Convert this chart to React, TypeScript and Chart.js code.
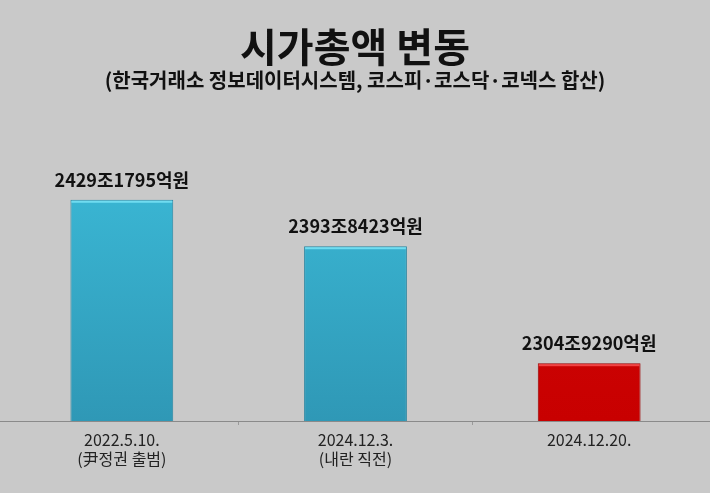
import React, { useEffect, useRef } from "react";
import { Chart, registerables } from "chart.js";
Chart.register(...registerables);

const titleText = "시가총액 변동";
const subtitleText = "(한국거래소 정보데이터시스템, 코스피·코스닥·코넥스 합산)";
const categories = [["2022.5.10.", "(尹정권 출범)"], ["2024.12.3.", "(내란 직전)"], ["2024.12.20."]];
const values = [2429.1795, 2393.8423, 2304.929];
const valueLabels = ["2429조1795억원", "2393조8423억원", "2304조9290억원"];
const barKinds = ["blue", "blue", "red"];
const yMin = 2261;
const yMax = 2505;

const FONT = '"Noto Sans CJK KR", "Noto Sans", sans-serif';
const BG = "#c9c9c9";

const palette: Record<string, { top: string; bottom: string; border: string; hi: string }> = {
  blue: { top: "#3ec1de", bottom: "#2f98b6", border: "#2a87a2", hi: "#70dcf0" },
  red: { top: "#d40a0a", bottom: "#c80000", border: "#9c0000", hi: "#f04444" },
};

const decor = {
  id: "decor",
  beforeDraw(chart: any) {
    const { ctx, width, height } = chart;
    ctx.save();
    ctx.fillStyle = BG;
    ctx.fillRect(0, 0, width, height);
    ctx.restore();
  },
  afterDatasetsDraw(chart: any) {
    const ctx = chart.ctx;
    const meta = chart.getDatasetMeta(0);
    ctx.save();
    meta.data.forEach((bar: any, i: number) => {
      const { x, y, width } = bar.getProps(["x", "y", "width"], true);
      const p = palette[barKinds[i]];
      ctx.fillStyle = p.hi;
      ctx.fillRect(x - width / 2 + 1, y + 1, width - 2, 2);
      ctx.font = `bold 18px ${FONT}`;
      ctx.textAlign = "center";
      ctx.textBaseline = "alphabetic";
      ctx.fillStyle = "#111";
      ctx.fillText(valueLabels[i], x, y - 13);
    });
    const yb = chart.chartArea.bottom;
    ctx.strokeStyle = "#8a8a8a";
    ctx.lineWidth = 1;
    ctx.beginPath();
    ctx.moveTo(0, yb + 0.5);
    ctx.lineTo(chart.width, yb + 0.5);
    ctx.stroke();
    ctx.restore();
  },
  afterDraw(chart: any) {
    const ctx = chart.ctx;
    const cx = chart.width / 2;
    ctx.save();
    ctx.fillStyle = "#111";
    ctx.textAlign = "center";
    ctx.textBaseline = "middle";
    ctx.font = `bold 40px ${FONT}`;
    ctx.fillText(titleText, cx, 47);
    ctx.font = `bold 20px ${FONT}`;
    ctx.fillText(subtitleText, cx, 80);
    ctx.restore();
  },
};

export default function App() {
  const ref = useRef<HTMLCanvasElement>(null);
  useEffect(() => {
    if (!ref.current) return;
    const chart = new Chart(ref.current, {
      type: "bar",
      data: {
        labels: categories as any,
        datasets: [
          {
            data: values,
            barPercentage: 0.44,
            categoryPercentage: 1,
            borderWidth: 1,
            borderColor: barKinds.map((k) => palette[k].border),
            backgroundColor: (c: any) => {
              const area = c.chart.chartArea;
              const p = palette[barKinds[c.dataIndex] || "blue"];
              if (!area) return p.top;
              const g = c.chart.ctx.createLinearGradient(0, area.top, 0, area.bottom);
              g.addColorStop(0, p.top);
              g.addColorStop(1, p.bottom);
              return g;
            },
          },
        ],
      },
      options: {
        responsive: false,
        animation: false,
        layout: { padding: { top: 100, left: 5, right: 4, bottom: 0 } },
        plugins: { legend: { display: false }, tooltip: { enabled: false }, title: { display: false } },
        scales: {
          y: { display: false, min: yMin, max: yMax },
          x: {
            border: { display: false },
            grid: {
              display: true,
              drawOnChartArea: false,
              offset: true,
              tickLength: 4,
              color: (c: any) =>
                c.type !== "tick" || c.index === 0 || c.index === undefined ? "rgba(0,0,0,0)" : "#9a9a9a",
            },
            ticks: { color: "#222", font: { family: FONT, size: 16 }, padding: 5 },
            afterFit: (s: any) => {
              s.height = 72;
            },
          },
        },
      },
      plugins: [decor],
    });
    return () => chart.destroy();
  }, []);
  return (
    <div style={{ position: "fixed", left: 0, top: 0, width: 710, height: 493, background: BG }}>
      <canvas ref={ref} width={710} height={493} style={{ display: "block" }} />
    </div>
  );
}
